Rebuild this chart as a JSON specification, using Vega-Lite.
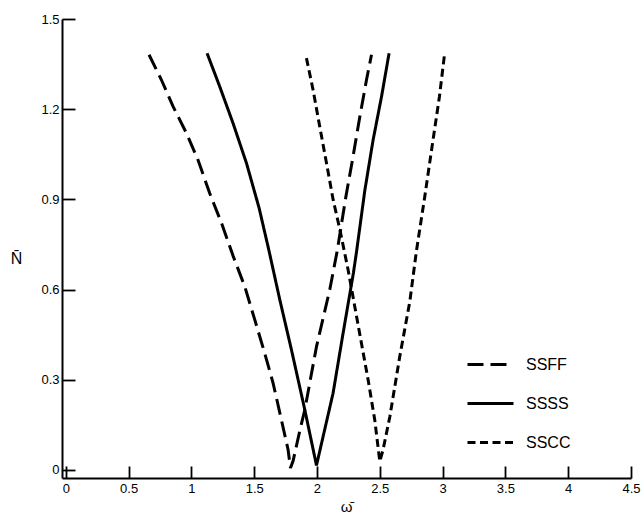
{
  "$schema": "https://vega.github.io/schema/vega-lite/v6.json",
  "autosize": {"type": "none"},
  "padding": {"left": 62, "top": 19, "right": 10, "bottom": 40},
  "width": 569,
  "height": 459,
  "background": "white",
  "config": {
    "view": {"stroke": null},
    "axis": {
      "grid": false,
      "domainColor": "black",
      "domainWidth": 2,
      "tickColor": "black",
      "tickWidth": 1.8,
      "labelFont": "Liberation Sans",
      "labelFontSize": 13,
      "labelColor": "black",
      "titleFont": "Liberation Sans",
      "titleColor": "black",
      "titleFontWeight": "normal"
    }
  },
  "data": {
    "values": [
      {"series": "SSFF", "w": 0.663, "n": 1.381},
      {"series": "SSFF", "w": 0.762, "n": 1.297},
      {"series": "SSFF", "w": 0.854, "n": 1.209},
      {"series": "SSFF", "w": 0.961, "n": 1.120},
      {"series": "SSFF", "w": 1.053, "n": 1.031},
      {"series": "SSFF", "w": 1.146, "n": 0.920},
      {"series": "SSFF", "w": 1.240, "n": 0.821},
      {"series": "SSFF", "w": 1.332, "n": 0.712},
      {"series": "SSFF", "w": 1.425, "n": 0.610},
      {"series": "SSFF", "w": 1.505, "n": 0.499},
      {"series": "SSFF", "w": 1.584, "n": 0.388},
      {"series": "SSFF", "w": 1.651, "n": 0.288},
      {"series": "SSFF", "w": 1.717, "n": 0.166},
      {"series": "SSFF", "w": 1.770, "n": 0.067},
      {"series": "SSFF", "w": 1.789, "n": 0.006},
      {"series": "SSFF", "w": 1.810, "n": 0.030},
      {"series": "SSFF", "w": 1.863, "n": 0.130},
      {"series": "SSFF", "w": 1.903, "n": 0.200},
      {"series": "SSFF", "w": 1.996, "n": 0.410},
      {"series": "SSFF", "w": 2.102, "n": 0.600},
      {"series": "SSFF", "w": 2.160, "n": 0.726},
      {"series": "SSFF", "w": 2.230, "n": 0.909},
      {"series": "SSFF", "w": 2.287, "n": 1.042},
      {"series": "SSFF", "w": 2.341, "n": 1.175},
      {"series": "SSFF", "w": 2.394, "n": 1.297},
      {"series": "SSFF", "w": 2.434, "n": 1.381},
      {"series": "SSSS", "w": 1.125, "n": 1.386},
      {"series": "SSSS", "w": 1.226, "n": 1.275},
      {"series": "SSSS", "w": 1.332, "n": 1.153},
      {"series": "SSSS", "w": 1.439, "n": 1.020},
      {"series": "SSSS", "w": 1.540, "n": 0.870},
      {"series": "SSSS", "w": 1.618, "n": 0.729},
      {"series": "SSSS", "w": 1.704, "n": 0.566},
      {"series": "SSSS", "w": 1.797, "n": 0.399},
      {"series": "SSSS", "w": 1.903, "n": 0.200},
      {"series": "SSSS", "w": 1.996, "n": 0.015},
      {"series": "SSSS", "w": 2.128, "n": 0.255},
      {"series": "SSSS", "w": 2.208, "n": 0.455},
      {"series": "SSSS", "w": 2.290, "n": 0.655},
      {"series": "SSSS", "w": 2.315, "n": 0.726},
      {"series": "SSSS", "w": 2.381, "n": 0.930},
      {"series": "SSSS", "w": 2.447, "n": 1.098},
      {"series": "SSSS", "w": 2.514, "n": 1.242},
      {"series": "SSSS", "w": 2.574, "n": 1.386},
      {"series": "SSCC", "w": 1.916, "n": 1.370},
      {"series": "SSCC", "w": 1.969, "n": 1.264},
      {"series": "SSCC", "w": 2.022, "n": 1.142},
      {"series": "SSCC", "w": 2.076, "n": 1.020},
      {"series": "SSCC", "w": 2.129, "n": 0.898},
      {"series": "SSCC", "w": 2.182, "n": 0.800},
      {"series": "SSCC", "w": 2.248, "n": 0.665},
      {"series": "SSCC", "w": 2.301, "n": 0.543},
      {"series": "SSCC", "w": 2.354, "n": 0.421},
      {"series": "SSCC", "w": 2.407, "n": 0.300},
      {"series": "SSCC", "w": 2.460, "n": 0.166},
      {"series": "SSCC", "w": 2.500, "n": 0.028},
      {"series": "SSCC", "w": 2.526, "n": 0.067},
      {"series": "SSCC", "w": 2.580, "n": 0.177},
      {"series": "SSCC", "w": 2.659, "n": 0.377},
      {"series": "SSCC", "w": 2.739, "n": 0.560},
      {"series": "SSCC", "w": 2.792, "n": 0.729},
      {"series": "SSCC", "w": 2.858, "n": 0.909},
      {"series": "SSCC", "w": 2.924, "n": 1.098},
      {"series": "SSCC", "w": 2.975, "n": 1.242},
      {"series": "SSCC", "w": 3.015, "n": 1.381}
    ]
  },
  "mark": {"type": "line", "color": "black", "strokeWidth": 3, "strokeCap": "butt", "strokeJoin": "miter"},
  "encoding": {
    "x": {
      "field": "w", "type": "quantitative",
      "scale": {"domain": [-0.03, 4.5], "nice": false, "zero": false},
      "axis": {
        "title": "ω̄",
        "titleFontSize": 15,
        "titleX": 284, "titleY": 28,
        "titleAlign": "center", "titleBaseline": "middle",
        "values": [0, 0.5, 1, 1.5, 2, 2.5, 3, 3.5, 4, 4.5],
        "labelExpr": "datum.value == 0 ? '0' : format(datum.value, '')",
        "tickSize": -12,
        "labelPadding": 16,
        "labelFlush": false,
        "labelOverlap": false
      }
    },
    "y": {
      "field": "n", "type": "quantitative",
      "scale": {"domain": [-0.027, 1.5], "nice": false, "zero": false},
      "axis": {
        "title": "N̄",
        "titleAngle": 0,
        "titleFontSize": 16,
        "titleX": -46, "titleY": 239,
        "titleAlign": "center", "titleBaseline": "middle",
        "values": [0, 0.3, 0.6, 0.9, 1.2, 1.5],
        "labelExpr": "datum.value == 0 ? '0' : format(datum.value, '.1f')",
        "tickSize": -13,
        "labelPadding": 16,
        "labelFlush": false,
        "labelOverlap": false
      }
    },
    "strokeDash": {
      "field": "series", "type": "nominal",
      "scale": {"domain": ["SSFF", "SSSS", "SSCC"], "range": [[16, 7], [1, 0], [8, 4.5]]},
      "legend": {
        "orient": "none",
        "legendX": 404,
        "legendY": 321,
        "title": null,
        "symbolType": "stroke",
        "symbolSize": 2116,
        "symbolStrokeWidth": 3,
        "symbolStrokeColor": "black",
        "labelFont": "Liberation Sans",
        "labelFontSize": 16,
        "labelColor": "black",
        "labelOffset": 11,
        "rowPadding": 6,
        "padding": 0
      }
    },
    "order": {"field": "w", "type": "quantitative"}
  }
}
